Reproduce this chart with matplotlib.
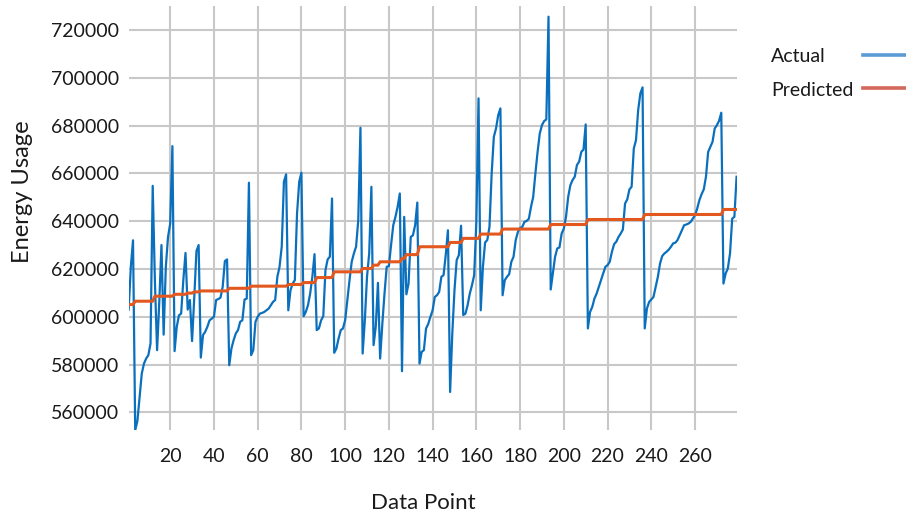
import matplotlib
matplotlib.use("Agg")
from matplotlib import pyplot as plt
from matplotlib.lines import Line2D

plt.rcParams['font.family'] = ['Lato', 'DejaVu Sans']

# energy usage per data point, 279 readings
actual = [
    603000, 621000, 632000, 552500, 556400, 566400, 576200, 580400, 582500, 583900,
    588800, 654800, 615000, 586000, 606000, 630000, 592500, 620900, 633400, 639000,
    671400, 585600, 595800, 600600, 601300, 615300, 626700, 603000, 607000, 589800,
    608000, 627500, 630000, 582900, 592300, 593700, 595800, 598500, 599200, 600000,
    607000, 607400, 608000, 612500, 623300, 624000, 579700, 586700, 590200, 593000,
    594400, 597900, 598500, 607200, 607600, 656100, 583900, 586000, 597900, 600000,
    601300, 601600, 602000, 602700, 603400, 604800, 606200, 607000, 616700, 620900,
    629300, 656500, 659600, 602700, 611100, 613900, 615300, 643200, 656500, 660300,
    600200, 602000, 604800, 609700, 616700, 626200, 594400, 595100, 598500, 600200,
    619500, 624000, 625100, 649500, 584900, 586700, 590900, 594400, 595100, 598500,
    607000, 615300, 623000, 626500, 629300, 640400, 679100, 584600, 598500, 616700,
    626500, 654400, 588100, 595800, 614200, 582500, 596900, 609700, 620900, 621200,
    630000, 638300, 641800, 646000, 651600, 577200, 641800, 609400, 613900, 633400,
    634100, 638300, 647800, 580400, 585300, 586000, 595100, 597000, 600000, 602700,
    608300, 609000, 610400, 616700, 617400, 625800, 636200, 568500, 593000, 611100,
    623700, 625800, 638100, 600700, 601300, 604800, 609700, 613200, 617400, 639700,
    691400, 602700, 620900, 631100, 632100, 637600, 660000, 675300, 678800, 684400,
    687200, 609000, 615300, 616700, 617800, 623000, 625100, 632100, 635500, 637200,
    637600, 639700, 640100, 641000, 646000, 650200, 660000, 669000, 676700, 680200,
    681900, 682600, 725600, 611400, 618100, 625100, 628600, 629000, 634800, 636900,
    641800, 650200, 655100, 657200, 658600, 663500, 664900, 669000, 670000, 680500,
    595100, 602000, 604100, 607600, 609700, 612500, 615300, 618100, 620900, 621600,
    623000, 627200, 630400, 631400, 633400, 634800, 636500, 647400, 649100, 653300,
    654400, 670400, 673900, 686500, 693500, 696000, 595100, 603400, 606200, 607200,
    608300, 612500, 616700, 622300, 625400, 626500, 627200, 628100, 629300, 630700,
    631000, 632100, 634100, 636200, 638300, 638600, 639000, 639700, 641100, 642500,
    645300, 648800, 651300, 653300, 658600, 669000, 671100, 673200, 678800, 680200,
    682000, 685400, 613900, 618100, 620200, 626500, 641100, 641800, 658600,
]

predicted = [
    605100, 605100, 605100, 606500, 606500, 606500, 606500, 606500, 606500, 606500,
    606500, 606500, 608600, 608600, 608600, 608600, 608600, 608600, 608600, 608600,
    608600, 609400, 609400, 609400, 609400, 609400, 609400, 609900, 609900, 609900,
    610400, 610400, 610400, 610800, 610800, 610800, 610800, 610800, 610800, 610800,
    610800, 610800, 610800, 610800, 610800, 610800, 611900, 611900, 611900, 611900,
    611900, 611900, 611900, 611900, 611900, 611900, 612800, 612800, 612800, 612800,
    612800, 612800, 612800, 612800, 612800, 612800, 612800, 612800, 612800, 612800,
    612800, 612800, 612800, 613500, 613500, 613500, 613500, 613500, 613500, 613500,
    614300, 614300, 614300, 614300, 614300, 614300, 616400, 616400, 616400, 616400,
    616400, 616400, 616400, 616400, 618800, 618800, 618800, 618800, 618800, 618800,
    618800, 618800, 618800, 618800, 618800, 618800, 618800, 620200, 620200, 620200,
    620200, 620200, 621600, 621600, 621600, 623000, 623000, 623000, 623000, 623000,
    623000, 623000, 623000, 623000, 623000, 624400, 624400, 626000, 626000, 626000,
    626000, 626000, 626000, 629300, 629300, 629300, 629300, 629300, 629300, 629300,
    629300, 629300, 629300, 629300, 629300, 629300, 629300, 631100, 631100, 631100,
    631100, 631100, 631100, 632800, 632800, 632800, 632800, 632800, 632800, 632800,
    632800, 634600, 634600, 634600, 634600, 634600, 634600, 634600, 634600, 634600,
    634600, 636700, 636700, 636700, 636700, 636700, 636700, 636700, 636700, 636700,
    636700, 636700, 636700, 636700, 636700, 636700, 636700, 636700, 636700, 636700,
    636700, 636700, 636700, 638600, 638600, 638600, 638600, 638600, 638600, 638600,
    638600, 638600, 638600, 638600, 638600, 638600, 638600, 638600, 638600, 638600,
    640700, 640700, 640700, 640700, 640700, 640700, 640700, 640700, 640700, 640700,
    640700, 640700, 640700, 640700, 640700, 640700, 640700, 640700, 640700, 640700,
    640700, 640700, 640700, 640700, 640700, 640700, 642800, 642800, 642800, 642800,
    642800, 642800, 642800, 642800, 642800, 642800, 642800, 642800, 642800, 642800,
    642800, 642800, 642800, 642800, 642800, 642800, 642800, 642800, 642800, 642800,
    642800, 642800, 642800, 642800, 642800, 642800, 642800, 642800, 642800, 642800,
    642800, 642800, 644900, 644900, 644900, 644900, 644900, 644900, 644900,
]

data_point = list(range(1, len(actual) + 1))
x_ticks = [20, 40, 60, 80, 100, 120, 140, 160, 180, 200, 220, 240, 260]
y_ticks = [560000, 580000, 600000, 620000, 640000, 660000, 680000, 700000, 720000]

series_names = ['Actual', 'Predicted']
key_colors = ['#5b9bd5', '#d4685a']

W, H = 906, 514
fig = plt.figure(figsize=(W / 100, H / 100), dpi=100)
ax = fig.add_axes([0.142, 0.163, 0.671, 0.825])

ax.plot(data_point, actual, color='#0a70be', lw=1.6, zorder=3)
ax.plot(data_point, predicted, color='#e2581f', lw=2.2, zorder=4)

ax.set_xlim(1, 279)
ax.set_ylim(552500, 730000)
ax.set_xticks(x_ticks)
ax.set_yticks(y_ticks)
ax.grid(True, color='#c8c8c8', lw=1.5)
ax.set_axisbelow(True)
for s in ax.spines.values():
    s.set_visible(False)
ax.tick_params(length=0, labelsize=14, colors='#1a1a1a')
ax.tick_params(axis='y', pad=7)
ax.tick_params(axis='x', pad=13)

fig.text(0.467, 1 - 509 / H, 'Data Point', fontsize=16, color='#1a1a1a',
         ha='center', va='baseline')
fig.text(0.025, 1 - 192 / H, 'Energy Usage', fontsize=17, color='#1a1a1a',
         rotation=90, ha='center', va='center')

# key on the right, label first then a short line
for name, col, ty, ly in zip(series_names, key_colors, [56, 90], [55, 88]):
    fig.text(771 / W, 1 - ty / H, name, fontsize=14, color='#1a1a1a',
             ha='left', va='center')
    fig.add_artist(Line2D([863 / W, 1.0], [1 - ly / H, 1 - ly / H],
                          transform=fig.transFigure, color=col, lw=2.6))

fig.savefig('out.png', dpi=100)
